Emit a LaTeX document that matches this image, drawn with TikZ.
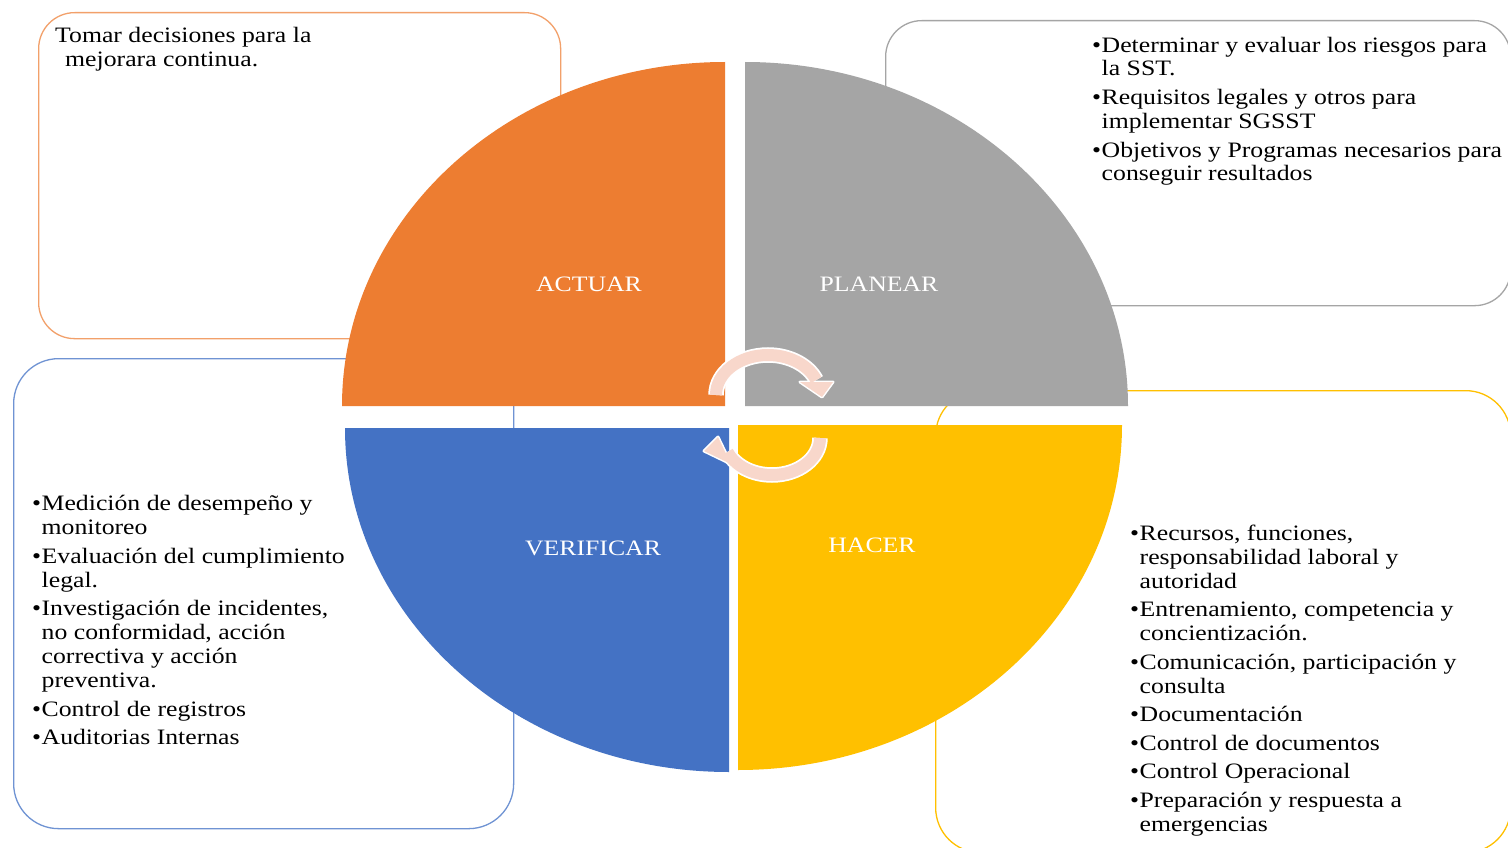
\documentclass[tikz,border=0pt]{standalone}
\usepackage{fontspec}
\setmainfont{Liberation Serif}[FakeStretch=1.17]
\definecolor{cOrange}{HTML}{ED7D31}
\definecolor{cGray}{HTML}{A5A5A5}
\definecolor{cBlue}{HTML}{4472C4}
\definecolor{cYellow}{HTML}{FFC000}
\definecolor{cPink}{HTML}{F8D7CB}
\definecolor{lOrange}{HTML}{F2A06A}
\definecolor{lBlue}{HTML}{6F93D3}
\newcommand\mybul{\makebox[9.5pt][l]{•}}
\newcommand\myind{\hspace*{9.5pt}}
\begin{document}
\begin{tikzpicture}[x=1pt,y=1pt,
  boxline/.style={line width=1.3pt, rounded corners=#1, inner sep=0pt, anchor=north west},
  boxtext/.style={anchor=north west, inner sep=0pt, align=left, font=\fontsize{22}{24}\selectfont},
  phase/.style={text=white, font=\fontsize{22}{24}\selectfont, inner sep=0pt, anchor=base},
  bandwhite/.style={white, line width=15.5pt},
  bandpink/.style={cPink, line width=12pt},
  headwhite/.style={fill=white, draw=white, line width=3pt, line join=round},
  headpink/.style={fill=cPink}]
\useasboundingbox (0,0) rectangle (1508,-848);
\clip (0,0) rectangle (1508,-848);
\fill[white] (0,0) rectangle (1508,-848);

% text boxes
\node[boxline=36pt, draw=lOrange, minimum width=522pt, minimum height=326pt] (actbox) at (38,-12) {};
\node[boxline=36pt, draw=cGray, minimum width=625pt, minimum height=285pt] (planbox) at (885,-20) {};
\node[boxline=45pt, draw=cYellow, minimum width=575pt, minimum height=462pt] (hacbox) at (935,-390) {};
\node[boxline=45pt, draw=lBlue, minimum width=500pt, minimum height=470pt] (verbox) at (13,-358) {};

% quarters
\fill[cOrange] (725,-406) -- (342,-406) arc[start angle=180, end angle=90, x radius=383, y radius=344] -- cycle;
\fill[cGray] (745,-406) -- (1128,-406) arc[start angle=0, end angle=90, x radius=383, y radius=344] -- cycle;
\fill[cBlue] (729,-428) -- (345,-428) arc[start angle=180, end angle=270, x radius=384, y radius=344] -- cycle;
\fill[cYellow] (738,-425) -- (1122,-425) arc[start angle=0, end angle=-90, x radius=384, y radius=345] -- cycle;

% phase labels
\node[phase] (actuar) at (589,-291.5) {ACTUAR};
\node[phase] (planear) at (879,-291.5) {PLANEAR};
\node[phase] (verificar) at (593,-555) {VERIFICAR};
\node[phase] (hacer) at (872,-552) {HACER};

% cycle arrows
\draw[bandwhite] (716,-395) arc[start angle=180, end angle=22, x radius=52, y radius=40];
\draw[bandwhite] (820,-438) arc[start angle=0, end angle=-158, x radius=48, y radius=37];
\filldraw[headwhite] (800,-382) -- (833,-382) -- (822,-397) -- cycle;
\filldraw[headwhite] (704,-451) -- (718,-437) -- (731,-464) -- cycle;
\draw[bandpink] (716,-395) arc[start angle=180, end angle=22, x radius=52, y radius=40];
\draw[bandpink] (820,-438) arc[start angle=0, end angle=-158, x radius=48, y radius=37];
\fill[headpink] (800,-382) -- (833,-382) -- (822,-397) -- cycle;
\fill[headpink] (704,-451) -- (718,-437) -- (731,-464) -- cycle;

% box texts
\node[boxtext] (acttext) at (55,-25.5) {\strut Tomar decisiones para la\\ \hspace*{10pt}mejorara continua.};

\node[boxtext] (plantext) at (1092,-35) {\strut\mybul Determinar y evaluar los riesgos para\\
\myind la SST.\\[4.5pt]
\mybul Requisitos legales y otros para\\
\myind implementar SGSST\\[4.5pt]
\mybul Objetivos y Programas necesarios para\\
\myind conseguir resultados};

\node[boxtext] (hactext) at (1130,-523) {\strut\mybul Recursos, funciones,\\
\myind responsabilidad laboral y\\
\myind autoridad\\[4.5pt]
\mybul Entrenamiento, competencia y\\
\myind concientización.\\[4.5pt]
\mybul Comunicación, participación y\\
\myind consulta\\[4.5pt]
\mybul Documentación\\[4.5pt]
\mybul Control de documentos\\[4.5pt]
\mybul Control Operacional\\[4.5pt]
\mybul Preparación y respuesta a\\
\myind emergencias};

\node[boxtext] (vertext) at (32,-493.5) {\strut\mybul Medición de desempeño y\\
\myind monitoreo\\[4.5pt]
\mybul Evaluación del cumplimiento\\
\myind legal.\\[4.5pt]
\mybul Investigación de incidentes,\\
\myind no conformidad, acción\\
\myind correctiva y acción\\
\myind preventiva.\\[4.5pt]
\mybul Control de registros\\[4.5pt]
\mybul Auditorias Internas};
\end{tikzpicture}
\end{document}
